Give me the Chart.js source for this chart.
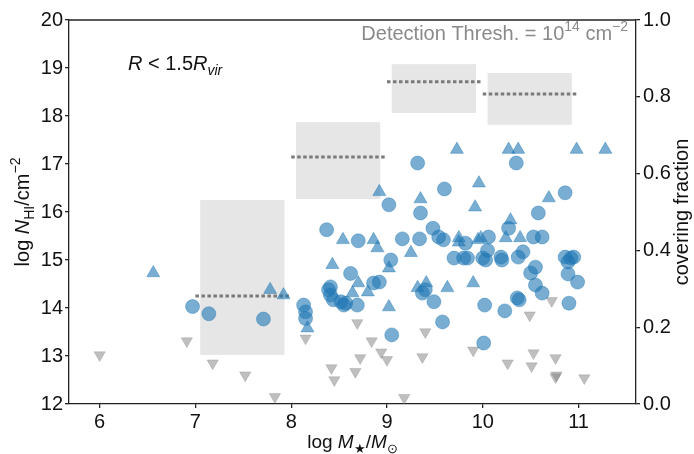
<!DOCTYPE html>
<html lang="en">
<head>
<meta charset="UTF-8">
<title>HI column density vs stellar mass</title>
<script src="https://cdn.jsdelivr.net/npm/chart.js"></script>
<style>
  html, body { margin: 0; padding: 0; background: #fff; }
  #wrap { width: 694px; height: 454px; }
</style>
</head>
<body>
<div id="wrap"><canvas id="nhiChart" width="694" height="454"></canvas></div>
<script>
// tick values
const xTicks = [6, 7, 8, 9, 10, 11];
const yTicks = [12, 13, 14, 15, 16, 17, 18, 19, 20];
const fracTicks = [0, 0.2, 0.4, 0.6, 0.8, 1.0];

// detections, circles [log M*, log NHI]
const detCircles = [
  [6.97, 14.03], [7.14, 13.88], [7.71, 13.77],
  [8.13, 14.06], [8.15, 13.92], [8.15, 13.78],
  [8.37, 15.63], [8.39, 14.38], [8.41, 14.27], [8.44, 14.17], [8.41, 14.44], [8.52, 14.13],
  [8.57, 14.10], [8.69, 14.06], [8.55, 14.06], [8.62, 14.72], [8.70, 15.40],
  [8.86, 14.52], [8.92, 14.54], [9.04, 15.00], [9.02, 16.15], [9.05, 13.44],
  [9.32, 17.02], [9.60, 16.48], [9.35, 15.98], [9.48, 15.66], [9.16, 15.44], [9.34, 15.44],
  [9.54, 15.48], [9.59, 15.42], [9.82, 15.35], [9.70, 15.04], [9.80, 15.04], [9.84, 15.04],
  [10.00, 15.04], [9.37, 14.31], [9.40, 14.38], [9.49, 14.13], [9.58, 13.71],
  [10.06, 15.48], [10.05, 15.20], [10.03, 15.00],
  [10.02, 14.06], [10.01, 13.27], [10.23, 13.94], [10.36, 14.21], [10.38, 14.17],
  [10.35, 17.02], [10.86, 16.40], [10.58, 15.98], [10.27, 15.66], [10.53, 15.48], [10.62, 15.48],
  [10.19, 15.06], [10.37, 15.06], [10.20, 15.00], [10.42, 15.17], [10.55, 14.85], [10.50, 14.73],
  [10.55, 14.48], [10.62, 14.31], [10.86, 15.06], [10.92, 15.04], [10.95, 15.06], [10.89, 14.96],
  [10.89, 14.71], [10.99, 14.54], [10.90, 14.10]
];

// detections, triangles
const detTriangles = [
  [6.56, 14.73], [7.78, 14.38], [7.92, 14.27], [8.17, 13.58], [8.43, 14.90],
  [8.54, 15.42], [8.86, 15.42], [8.90, 15.25], [8.70, 14.52], [8.80, 14.33], [8.64, 14.31],
  [8.92, 16.42], [9.02, 14.02], [9.02, 14.83], [9.25, 15.15], [9.32, 14.42], [9.41, 14.52],
  [9.63, 14.42], [9.90, 14.52], [9.35, 16.27], [9.92, 16.10], [9.96, 16.60],
  [9.73, 17.30], [10.27, 17.30], [10.37, 17.30], [10.98, 17.30], [11.28, 17.30],
  [9.75, 15.46], [9.98, 15.46], [9.95, 15.42], [10.24, 15.46], [10.39, 15.46],
  [10.29, 15.83], [10.69, 16.29], [9.75, 15.37]
];

// non-detections (upper limits)
const upperLimits = [
  [6.00, 13.02], [6.91, 13.31], [7.18, 12.85], [7.52, 12.60], [7.83, 12.15],
  [8.15, 13.37], [8.42, 12.75], [8.45, 12.50], [8.69, 13.69], [8.84, 13.31],
  [8.72, 12.96], [8.67, 12.67], [8.94, 13.08], [9.00, 12.92], [9.18, 12.13],
  [9.40, 13.50], [9.37, 12.98], [9.90, 13.12], [10.26, 12.85], [10.49, 13.85],
  [10.53, 13.06], [10.51, 12.79], [10.72, 14.15], [10.76, 12.96], [10.76, 12.56],
  [10.77, 12.60], [11.06, 12.54]
];

// covering fraction per stellar mass bin
const binLow = [7, 8, 9, 10];
const binHigh = [8, 9, 10, 11];
const coverFrac = [0.281, 0.643, 0.839, 0.807];
const coverLow = [0.128, 0.534, 0.758, 0.727];
const coverHigh = [0.531, 0.734, 0.885, 0.862];

const FONT = '"Liberation Sans", Arial, sans-serif';
const blueFill = 'rgba(31, 119, 180, 0.6)';
const blueEdge = 'rgba(31, 119, 180, 0.4)';
const toPts = arr => arr.map(p => ({x: p[0], y: p[1]}));

// text with italics / sub / superscripts
function richWidth(ctx, parts, size) {
  let w = 0;
  parts.forEach(p => {
    const s = (p.sub || p.sup) ? size * 0.7 : size;
    ctx.font = (p.it ? 'italic ' : '') + s + 'px ' + FONT;
    w += ctx.measureText(p.t).width;
  });
  return w;
}
function drawRich(ctx, parts, x, y, size, align) {
  let cx = x;
  if (align === 'center') cx = x - richWidth(ctx, parts, size) / 2;
  ctx.textAlign = 'left';
  ctx.textBaseline = 'alphabetic';
  parts.forEach(p => {
    const s = (p.sub || p.sup) ? size * 0.7 : size;
    const dy = p.sub ? size * 0.25 : (p.sup ? -size * 0.45 : 0);
    ctx.font = (p.it ? 'italic ' : '') + s + 'px ' + FONT;
    ctx.fillText(p.t, cx, y + dy);
    cx += ctx.measureText(p.t).width;
  });
}

const boxPlugin = {
  id: 'coverBoxes',
  beforeDatasetsDraw(chart) {
    const {ctx, scales: {x, y2}} = chart;
    ctx.save();
    ctx.fillStyle = '#e6e6e6';
    binLow.forEach((lo, i) => {
      const x0 = x.getPixelForValue(lo + 0.05);
      const x1 = x.getPixelForValue(binHigh[i] - 0.07);
      const yTop = y2.getPixelForValue(coverHigh[i]);
      const yBot = y2.getPixelForValue(coverLow[i]);
      ctx.fillRect(x0, yTop, x1 - x0, yBot - yTop);
    });
    ctx.restore();
  }
};

const textPlugin = {
  id: 'figText',
  afterDraw(chart) {
    const {ctx, chartArea: a} = chart;
    ctx.save();
    // top spine
    ctx.strokeStyle = '#222';
    ctx.lineWidth = 1.3;
    ctx.beginPath();
    ctx.moveTo(a.left, a.top);
    ctx.lineTo(a.right, a.top);
    ctx.stroke();

    ctx.fillStyle = '#111';
    const midY = (a.top + a.bottom) / 2;
    // x title
    drawRich(ctx, [{t: 'log '}, {t: 'M', it: true}, {t: '\u2605', sub: true}, {t: '/'},
      {t: 'M', it: true}, {t: '\u2299', sub: true}], (a.left + a.right) / 2, 448, 19, 'center');
    // left y title
    ctx.save();
    ctx.translate(29, midY);
    ctx.rotate(-Math.PI / 2);
    drawRich(ctx, [{t: 'log '}, {t: 'N', it: true}, {t: 'HI', sub: true}, {t: '/cm'},
      {t: '\u22122', sup: true}], 0, 0, 20, 'center');
    ctx.restore();
    // right y title
    ctx.save();
    ctx.translate(688, midY);
    ctx.rotate(-Math.PI / 2);
    drawRich(ctx, [{t: 'covering fraction'}], 0, 0, 20, 'center');
    ctx.restore();

    // annotations
    drawRich(ctx, [{t: 'R', it: true}, {t: ' < 1.5'}, {t: 'R', it: true}, {t: 'vir', it: true, sub: true}],
      128, 70, 20, 'left');
    ctx.fillStyle = '#8a8a8a';
    const det = [{t: 'Detection Thresh. = 10'}, {t: '14', sup: true}, {t: ' cm'}, {t: '\u22122', sup: true}];
    drawRich(ctx, det, 628 - richWidth(ctx, det, 20), 40, 20, 'left');
    ctx.restore();
  }
};

const datasets = [
  {
    label: 'detections (triangles)',
    data: toPts(detTriangles),
    pointStyle: 'triangle',
    pointRadius: 7.5,
    backgroundColor: blueFill,
    borderColor: blueEdge,
    borderWidth: 1
  },
  {
    label: 'detections',
    data: toPts(detCircles),
    pointStyle: 'circle',
    pointRadius: 7,
    backgroundColor: blueFill,
    borderColor: blueEdge,
    borderWidth: 1
  },
  {
    label: 'upper limits',
    data: toPts(upperLimits),
    pointStyle: 'triangle',
    rotation: 180,
    pointRadius: 6.5,
    backgroundColor: 'rgba(128, 128, 128, 0.5)',
    borderColor: 'rgba(128, 128, 128, 0.3)',
    borderWidth: 1
  }
];
binLow.forEach((lo, i) => {
  datasets.push({
    type: 'line',
    label: 'covering fraction ' + i,
    data: [{x: lo, y: coverFrac[i]}, {x: binHigh[i], y: coverFrac[i]}],
    yAxisID: 'y2',
    borderColor: '#7a7a7a',
    borderWidth: 3,
    borderDash: [3.5, 2.5],
    pointRadius: 0
  });
});

const tickFont = {family: FONT, size: 20};
const axisGrid = {display: true, drawOnChartArea: false, drawTicks: true, tickLength: 4, color: '#222', lineWidth: 1.3};
const axisBorder = {display: true, color: '#222', width: 1.3};

new Chart(document.getElementById('nhiChart'), {
  type: 'scatter',
  data: {datasets: datasets},
  plugins: [boxPlugin, textPlugin],
  options: {
    responsive: false,
    animation: false,
    layout: {padding: {top: 20, left: 0, right: 0, bottom: 0}},
    plugins: {legend: {display: false}, tooltip: {enabled: false}},
    scales: {
      x: {
        type: 'linear',
        min: 5.68,
        max: 11.6,
        grid: axisGrid,
        border: axisBorder,
        afterBuildTicks: s => { s.ticks = xTicks.map(v => ({value: v})); },
        afterFit: s => { s.height = 50; },
        ticks: {font: tickFont, color: '#111', padding: 2}
      },
      y: {
        position: 'left',
        min: 12,
        max: 20,
        grid: axisGrid,
        border: axisBorder,
        afterBuildTicks: s => { s.ticks = yTicks.map(v => ({value: v})); },
        afterFit: s => { s.width = 69; },
        ticks: {font: tickFont, color: '#111', padding: 2}
      },
      y2: {
        position: 'right',
        min: 0,
        max: 1,
        grid: axisGrid,
        border: axisBorder,
        afterBuildTicks: s => { s.ticks = fracTicks.map(v => ({value: v})); },
        afterFit: s => { s.width = 58; },
        ticks: {font: tickFont, color: '#111', padding: 3, callback: v => v.toFixed(1)}
      }
    }
  }
});
</script>
</body>
</html>
